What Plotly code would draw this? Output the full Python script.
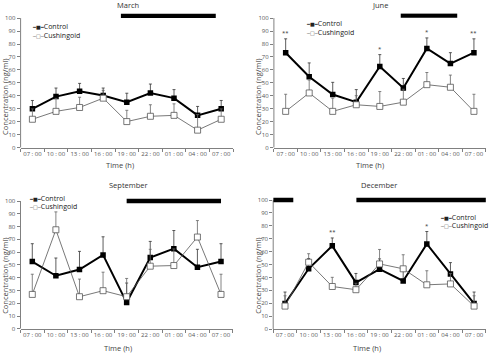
import plotly.graph_objects as go

W, H = 489, 357

# ---------------- data ----------------
times = ["07 : 00", "10 : 00", "13 : 00", "16 : 00", "19 : 00",
         "22 : 00", "01 : 00", "04 : 00", "07 : 00"]
x_idx = list(range(len(times)))
y_ticks = list(range(0, 101, 10))

march_control = [30, 39.4, 43.5, 40.2, 35.1, 42.2, 38.2, 24.9, 30]
march_control_err = [6.4, 6.6, 6.1, 5.8, 6.9, 6.9, 6.6, 6.9, 6.4]
march_cush = [21.9, 28, 31, 38.2, 20.1, 24.2, 24.9, 13.5, 21.9]
march_cush_err = [8, 10, 7.9, 6, 8.7, 8.9, 8.9, 12, 8]
march_sig = ["", "", "", "", "", "", "", "", ""]
march_night = [(3.75, 7.77)]

june_control = [73.3, 54.7, 41, 35.1, 62.6, 46, 76.6, 64.9, 73.3]
june_control_err = [10.7, 10.7, 9.4, 9.7, 9.2, 7.4, 8.1, 8.4, 10.7]
june_cush = [28, 42.2, 28, 33.1, 31.8, 35.1, 48.6, 46.6, 28]
june_cush_err = [13.2, 10, 10.2, 7, 11.5, 10, 9.4, 9.4, 13.2]
june_sig = ["**", "", "", "", "*", "", "*", "", "**"]
june_night = [(4.89, 7.29)]

sep_control = [52.6, 41.5, 46.4, 57.8, 20.5, 55.7, 62.7, 48.2, 52.6]
sep_control_err = [14, 13.9, 14.2, 14.2, 15.3, 12.7, 14.2, 14, 14]
sep_cush = [26.9, 77.5, 25.1, 29.8, 25.1, 49, 49.5, 71.8, 26.9]
sep_cush_err = [15.8, 14, 13.8, 14.5, 14.3, 13.2, 13, 12.9, 15.8]
sep_sig = ["", "", "", "", "", "", "", "", ""]
sep_night = [(4.0, 8.0)]

dec_control = [19.8, 46.7, 64.5, 36, 46.4, 37.3, 66, 42.6, 19.8]
dec_control_err = [8.9, 8, 6.1, 7.1, 8, 8, 9.6, 8.9, 8.9]
dec_cush = [17.8, 51.8, 33, 30.5, 50.5, 46.7, 34.3, 35, 17.8]
dec_cush_err = [8, 6.6, 7.1, 5, 11.2, 10.9, 10.9, 8, 8]
dec_sig = ["", "", "**", "", "", "", "*", "", ""]
dec_night = [(-0.5, 0.35), (3.02, 8.5)]

FONT = "Open Sans"
YMAX = 103.5


def pxx(v):
    return v / W


def pxy(v):
    return 1 - v / H


panels = [
    dict(title="March", ctrl=march_control, ctrl_err=march_control_err,
         cush=march_cush, cush_err=march_cush_err, sig=march_sig,
         night=march_night, night_y=101.8,
         box=(20.6, 233.0, 149.3, 18.3), leg=(30, 27.3, 36.0),
         ytitle=(5, 98), xtitle=(120, 166.7), ttl=(128, 5)),
    dict(title="June", ctrl=june_control, ctrl_err=june_control_err,
         cush=june_cush, cush_err=june_cush_err, sig=june_sig,
         night=june_night, night_y=102,
         box=(273.9, 485.7, 149.3, 18.3), leg=(304, 24, 33.3),
         ytitle=(258, 98), xtitle=(370, 166.7), ttl=(380, 5)),
    dict(title="September", ctrl=sep_control, ctrl_err=sep_control_err,
         cush=sep_cush, cush_err=sep_cush_err, sig=sep_sig,
         night=sep_night, night_y=100,
         box=(20.5, 232.8, 332.5, 203.3), leg=(27, 200.7, 209),
         ytitle=(5, 279), xtitle=(118, 352), ttl=(128, 187)),
    dict(title="December", ctrl=dec_control, ctrl_err=dec_control_err,
         cush=dec_cush, cush_err=dec_cush_err, sig=dec_sig,
         night=dec_night, night_y=100,
         box=(273.2, 485.9, 332.8, 202.3), leg=(438, 219.7, 228.5),
         ytitle=(258, 279), xtitle=(367, 352), ttl=(379, 187)),
]

fig = go.Figure()
shapes = []
annotations = []
layout_axes = {}

for i, p in enumerate(panels):
    n = "" if i == 0 else str(i + 1)
    xa, ya = "x" + n, "y" + n
    x0, x1, ybot, y100 = p["box"]
    ytop = ybot - (ybot - y100) * YMAX / 100.0

    layout_axes["xaxis" + n] = dict(
        domain=[pxx(x0), pxx(x1)], anchor=ya, range=[-0.5, 8.5],
        tickmode="array", tickvals=x_idx, ticktext=times, ticks="",
        showline=True, linecolor="#808080", linewidth=1,
        showgrid=False, zeroline=False,
        tickfont=dict(family=FONT, size=6, color="#555555"),
        minor=dict(ticks="outside", tick0=-0.5, dtick=1, ticklen=3,
                   tickcolor="#808080", tickwidth=1, showgrid=False),
    )
    layout_axes["yaxis" + n] = dict(
        domain=[pxy(ybot), pxy(ytop)], anchor=xa, range=[0, YMAX],
        tickmode="array", tickvals=y_ticks, ticks="outside", ticklen=3,
        tickcolor="#808080", tickwidth=1, showline=False, showgrid=False,
        zeroline=False,
        tickfont=dict(family=FONT, size=6, color="#555555"),
    )

    # y axis line (0 to 100)
    shapes.append(dict(type="line", xref=xa + " domain", yref=ya,
                       x0=0, x1=0, y0=0, y1=100,
                       line=dict(color="#808080", width=1)))
    # night bars
    for (a, b) in p["night"]:
        shapes.append(dict(type="line", xref=xa, yref=ya, x0=a, x1=b,
                           y0=p["night_y"], y1=p["night_y"],
                           line=dict(color="black", width=4.5)))

    fig.add_trace(go.Scatter(
        x=x_idx, y=p["ctrl"], xaxis=xa, yaxis=ya, name="Control",
        mode="lines+markers", showlegend=False,
        line=dict(color="black", width=2),
        marker=dict(symbol="square", size=5.5, color="black"),
        error_y=dict(type="data", array=p["ctrl_err"],
                     arrayminus=[0] * len(x_idx), symmetric=False,
                     color="#333333", thickness=0.8, width=1.5),
    ))
    fig.add_trace(go.Scatter(
        x=x_idx, y=p["cush"], xaxis=xa, yaxis=ya, name="Cushingoid",
        mode="lines+markers", showlegend=False,
        line=dict(color="#555555", width=0.8),
        marker=dict(symbol="square", size=6, color="white",
                    line=dict(color="#555555", width=0.8)),
        error_y=dict(type="data", array=p["cush_err"],
                     arrayminus=[0] * len(x_idx), symmetric=False,
                     color="#666666", thickness=0.8, width=1.5),
    ))

    # significance stars
    for j, s in enumerate(p["sig"]):
        if s:
            annotations.append(dict(
                x=x_idx[j], y=p["ctrl"][j] + p["ctrl_err"][j], xref=xa, yref=ya,
                text=s, showarrow=False, yanchor="bottom", yshift=0,
                font=dict(family=FONT, size=6, color="#333333")))

    # panel title
    tx, ty = p["ttl"]
    annotations.append(dict(x=pxx(tx), y=pxy(ty), xref="paper", yref="paper",
                            text=p["title"], showarrow=False,
                            xanchor="center", yanchor="middle",
                            font=dict(family=FONT, size=7.5, color="#333333")))
    # axis titles
    yx, yy = p["ytitle"]
    annotations.append(dict(x=pxx(yx), y=pxy(yy), xref="paper", yref="paper",
                            text="Concentration (ng/ml)", showarrow=False,
                            textangle=-90, xanchor="center", yanchor="middle",
                            font=dict(family=FONT, size=7.5, color="#444444")))
    xx, xy = p["xtitle"]
    annotations.append(dict(x=pxx(xx), y=pxy(xy), xref="paper", yref="paper",
                            text="Time (h)", showarrow=False,
                            xanchor="center", yanchor="middle",
                            font=dict(family=FONT, size=7.5, color="#444444")))
    # legend (text glyphs)
    lx, ly1, ly2 = p["leg"]
    annotations.append(dict(
        x=pxx(lx), y=pxy(ly1), xref="paper", yref="paper", showarrow=False,
        xanchor="left", yanchor="middle",
        text="<span style=\"font-family:'DejaVu Sans';font-size:5px\">━■━</span>Control",
        font=dict(family=FONT, size=7, color="#222222")))
    annotations.append(dict(
        x=pxx(lx), y=pxy(ly2), xref="paper", yref="paper", showarrow=False,
        xanchor="left", yanchor="middle",
        text="<span style=\"font-family:'DejaVu Sans';font-size:5px;color:#555555\">─□─</span>Cushingoid",
        font=dict(family=FONT, size=7, color="#222222")))

fig.update_layout(**layout_axes)
fig.update_layout(
    width=W, height=H, margin=dict(l=0, r=0, t=0, b=0),
    paper_bgcolor="white", plot_bgcolor="white",
    shapes=shapes, annotations=annotations, showlegend=False,
    font=dict(family=FONT),
)

fig.write_html("out.html", config={"displayModeBar": False},
               post_script="document.body.style.margin='0';"
                           "document.body.style.overflow='hidden';")
